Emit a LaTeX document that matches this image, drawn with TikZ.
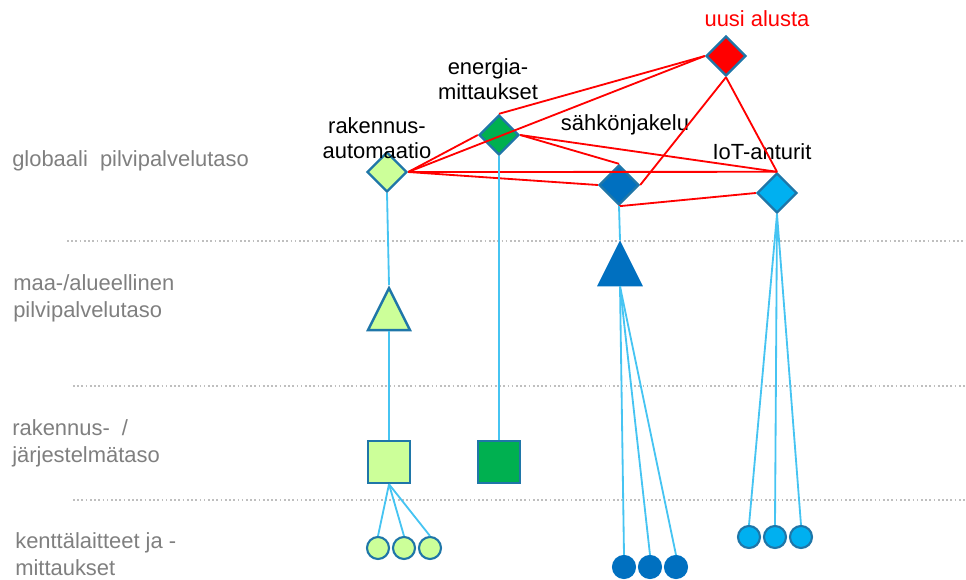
\documentclass[tikz,border=0pt]{standalone}
\usepackage{fontspec}
\setmainfont{Liberation Sans}
\usepackage{tikz}
\usetikzlibrary{shapes.geometric}
\usetikzlibrary{scopes}

\definecolor{rimblue}{RGB}{31,118,168}
\definecolor{palegreen}{RGB}{204,255,153}
\definecolor{darkgreen}{RGB}{0,176,80}
\definecolor{deepblue}{RGB}{0,112,192}
\definecolor{skyblue}{RGB}{0,176,240}
\definecolor{linkblue}{RGB}{70,196,242}
\definecolor{levelgray}{RGB}{127,127,127}

\begin{document}
\begin{tikzpicture}[auto,x=0.025cm,y=-0.025cm]
\useasboundingbox (0,0) rectangle (966,579);

% level names on the left
\begin{scope}[every node/.style={anchor=west,align=left,inner sep=0pt,text=levelgray,
              font=\fontsize{15.6}{19.2}\selectfont}]
    \node (L1) at (12,161) {globaali\ \ pilvipalvelutaso};
    \node (L2) at (13,298) {maa-/alueellinen\\pilvipalvelutaso};
    \node (L3) at (12,443) {rakennus-\ \ /\\järjestelmätaso};
    \node (L4) at (15,554) {kenttälaitteet ja -\\mittaukset};
\end{scope}

% dotted level borders
\begin{scope}[gray!50,line width=1.4pt,dash pattern=on 1.2pt off 1.8pt]
    \draw (67,241) -- (966,241);
    \draw (73,386) -- (966,386);
    \draw (73,500) -- (966,500);
\end{scope}

\begin{scope}[every node/.style={diamond,draw=rimblue,line width=1.7pt,
              minimum size=1cm,inner sep=0pt}]
    \node[fill=palegreen] (rak) at (387,172) {};
    \node[fill=darkgreen] (ener) at (499,135) {};
    \node[fill=deepblue] (sahko) at (619,185) {};
    \node[fill=skyblue] (iot) at (777,193) {};
    \node[fill=red] (uusi) at (726,56) {};
\end{scope}

\begin{scope}[every node/.style={isosceles triangle,shape border rotate=90,
              isosceles triangle stretches,minimum width=1.05cm,minimum height=1.05cm,
              inner sep=0pt,anchor=apex,draw=rimblue,line width=1.7pt}]
    \node[fill=palegreen] (rakreg) at (389,285) {};
    \node[fill=deepblue,draw=deepblue] (sahkoreg) at (620,240) {};
\end{scope}

\begin{scope}[every node/.style={rectangle,draw=rimblue,line width=1.7pt,
              minimum size=1.05cm,inner sep=0pt}]
    \node[fill=palegreen] (raksys) at (389,462) {};
    \node[fill=darkgreen] (enersys) at (499,462) {};
\end{scope}

\begin{scope}[every node/.style={circle,draw=rimblue,line width=1.5pt,
              minimum size=0.55cm,inner sep=0pt}]
    \node[fill=palegreen] (rk1) at (378,548) {};
    \node[fill=palegreen] (rk2) at (404,548) {};
    \node[fill=palegreen] (rk3) at (430,548) {};
    \node[fill=deepblue,draw=deepblue] (sk1) at (624,567) {};
    \node[fill=deepblue,draw=deepblue] (sk2) at (650,567) {};
    \node[fill=deepblue,draw=deepblue] (sk3) at (676,567) {};
    \node[fill=skyblue] (it1) at (749,537) {};
    \node[fill=skyblue] (it2) at (775,537) {};
    \node[fill=skyblue] (it3) at (801,537) {};
\end{scope}

\begin{scope}[every node/.style={align=center,inner sep=0pt,
              font=\fontsize{15.6}{17.8}\selectfont}]
    \node (rakname) at (377,138) {rakennus-\\automaatio};
    \node (enername) at (488,79) {energia-\\mittaukset};
    \node (sahkoname) at (625,125) {sähkönjakelu};
    \node (iotname) at (762,152) {IoT-anturit};
    \node[text=red] (uusiname) at (757,19) {uusi alusta};
\end{scope}

\begin{scope}[every edge/.style={draw=red,line width=1.3pt}]
    \path (uusi.west) edge (ener.north);
    \path (uusi.west) edge (rak.east);
    \path (uusi.south) edge (sahko.east);
    \path (uusi.south) edge (iot.north);
    \path (rak.east) edge (ener.west);
    \path (rak.east) edge (iot.north);
    \path (rak.east) edge (sahko.west);
    \path (ener.east) edge (sahko.north);
    \path (ener.east) edge (iot.north);
    \path (sahko.south) edge (iot.west);
\end{scope}

\begin{scope}[every edge/.style={draw=linkblue,line width=1.3pt}]
    \path (rak.south) edge (rakreg.apex);
    \path (rakreg.lower side) edge (raksys.north);
    \path (raksys.south) edge (rk1.north) edge (rk2.north) edge (rk3.north);
    \path (ener.south) edge (enersys.north);
    \path (sahko.south) edge (sahkoreg.apex);
    \path (sahkoreg.lower side) edge (sk1.north) edge (sk2.north) edge (sk3.north);
    \path (iot.south) edge (it1.north) edge (it2.north) edge (it3.north);
\end{scope}
\end{tikzpicture}
\end{document}
